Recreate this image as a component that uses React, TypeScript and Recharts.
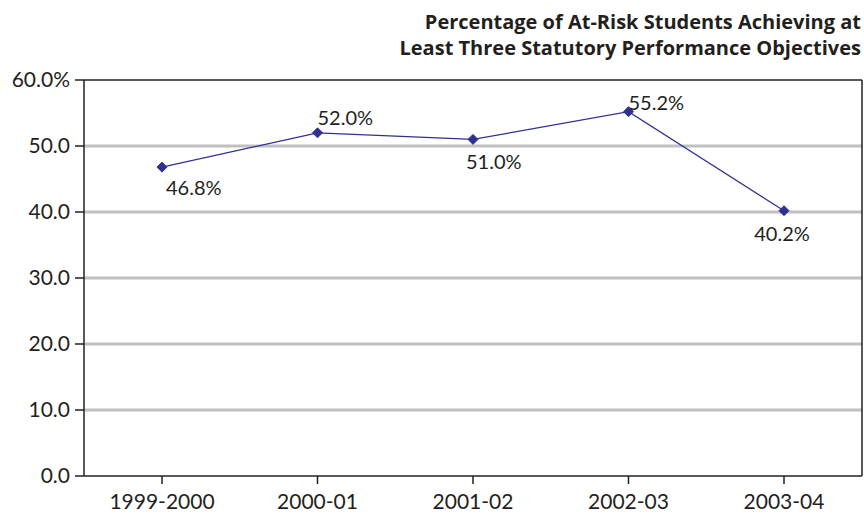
import { LineChart, Line, XAxis, YAxis, CartesianGrid, LabelList } from "recharts";

const years = ["1999-2000", "2000-01", "2001-02", "2002-03", "2003-04"];
const atRiskPct = [46.8, 52.0, 51.0, 55.2, 40.2];
const yTicks = [0, 10, 20, 30, 40, 50, 60];
const gridValues = [10, 20, 30, 40, 50];

const data = years.map((year, i) => ({ year, value: atRiskPct[i] }));

const FONT = "Lato, 'Open Sans', sans-serif";
const TITLE_FONT = "'Open Sans', Lato, sans-serif";
const NAVY = "#2e3192";
const INK = "#231f20";

const Diamond = (props: any) => {
  const { cx, cy } = props;
  if (cx == null || cy == null) return null;
  const r = 5;
  return (
    <path
      d={`M${cx},${cy - r} L${cx + r},${cy} L${cx},${cy + r} L${cx - r},${cy} Z`}
      fill={NAVY}
      stroke={NAVY}
    />
  );
};

// where each value label sits relative to its point
const labelPlace: Record<number, { dx: number; dy: number; anchor: string }> = {
  0: { dx: 4, dy: 20, anchor: "start" },
  1: { dx: 0, dy: -16, anchor: "start" },
  2: { dx: -7, dy: 22, anchor: "start" },
  3: { dx: 0, dy: -10, anchor: "start" },
  4: { dx: -2, dy: 22, anchor: "middle" },
};

const ValueLabel = (props: any) => {
  const { x, y, value, index } = props;
  const p = labelPlace[index] || { dx: 0, dy: -12, anchor: "middle" };
  return (
    <text
      x={x + p.dx}
      y={y + p.dy}
      textAnchor={p.anchor}
      dominantBaseline="central"
      fontFamily={FONT}
      fontSize={20}
      fill={INK}
    >
      {Number(value).toFixed(1)}%
    </text>
  );
};

const App = () => {
  return (
    <div style={{ position: "absolute", left: 0, top: 0, width: 864, height: 517, background: "#fff" }}>
      <div
        style={{
          position: "absolute",
          right: 3,
          top: 9,
          textAlign: "right",
          fontFamily: TITLE_FONT,
          fontWeight: 700,
          fontSize: 20,
          lineHeight: "26px",
          color: INK,
          whiteSpace: "nowrap",
        }}
      >
        Percentage of At-Risk Students Achieving at
        <br />
        Least Three Statutory Performance Objectives
      </div>
      <LineChart
        width={864}
        height={517}
        data={data}
        margin={{ top: 80, right: 2, bottom: 0, left: 0 }}
      >
        <CartesianGrid
          vertical={false}
          horizontalValues={gridValues}
          stroke="#c0c0c0"
          strokeWidth={3}
        />
        {/* plot frame: top and right edges */}
        <CartesianGrid
          stroke={INK}
          strokeWidth={1.5}
          horizontalCoordinatesGenerator={({ offset }: any) => [offset.top]}
          verticalCoordinatesGenerator={({ offset }: any) => [offset.left + offset.width]}
        />
        <XAxis
          dataKey="year"
          height={41}
          padding={{ left: 78, right: 78 }}
          axisLine={{ stroke: INK, strokeWidth: 1.5 }}
          tickLine={{ stroke: INK, strokeWidth: 1.5 }}
          tickSize={8}
          tick={{ fontFamily: FONT, fontSize: 21, fill: INK, dy: 8 }}
        />
        <YAxis
          domain={[0, 60]}
          ticks={yTicks}
          width={84}
          interval={0}
          axisLine={{ stroke: INK, strokeWidth: 1.5 }}
          tickLine={{ stroke: INK, strokeWidth: 1.5 }}
          tickSize={9}
          tickFormatter={(v: number) => (v === 60 ? "60.0%" : v.toFixed(1))}
          tick={{ fontFamily: FONT, fontSize: 21, fill: INK, dx: -3 }}
        />
        <Line
          type="linear"
          dataKey="value"
          stroke={NAVY}
          strokeWidth={1.2}
          dot={<Diamond />}
          activeDot={false}
          isAnimationActive={false}
        >
          <LabelList dataKey="value" content={<ValueLabel />} />
        </Line>
      </LineChart>
    </div>
  );
};

export default App;
